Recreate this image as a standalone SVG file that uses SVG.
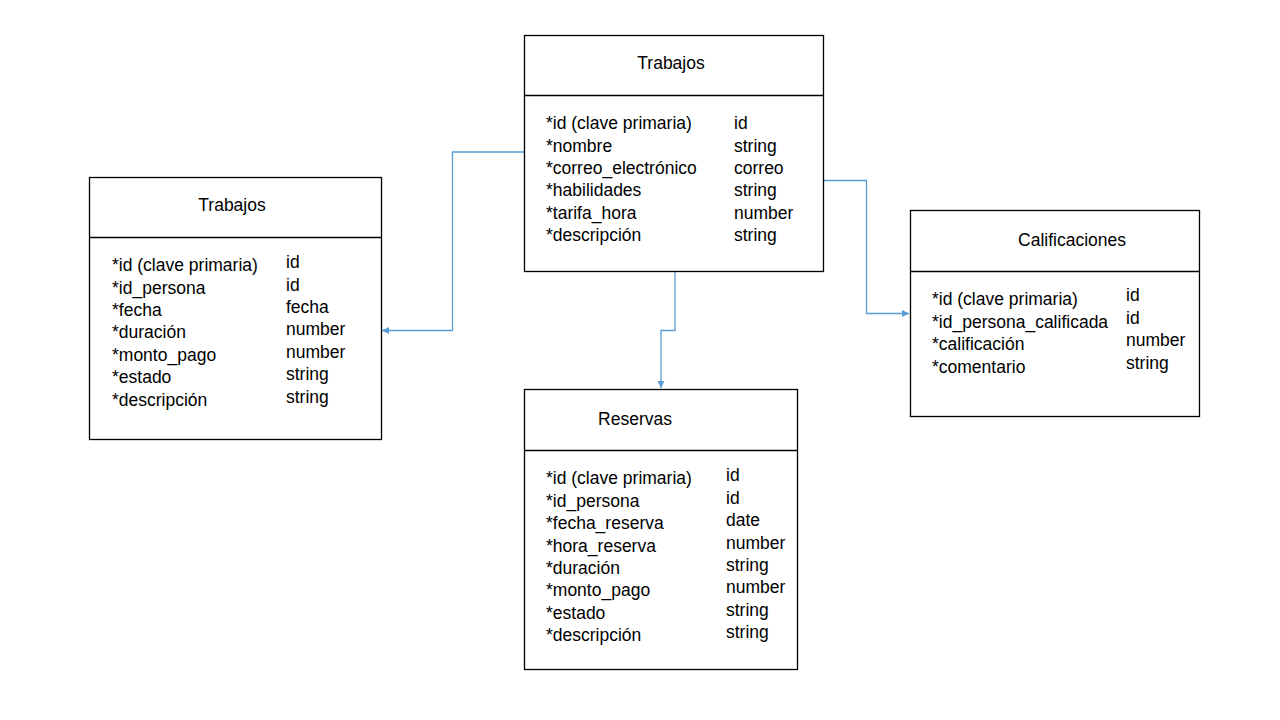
<svg xmlns="http://www.w3.org/2000/svg" width="1280" height="720" viewBox="0 0 1280 720">
  <defs>
    <style>
      .box { fill: #ffffff; stroke: #000000; stroke-width: 1.3; }
      .div { stroke: #000000; stroke-width: 1.3; }
      text { font-family: "Liberation Sans", Arial, sans-serif; font-size: 17.5px; fill: #000000; }
      .title { text-anchor: middle; }
      .link { fill: none; stroke: #5B9BD5; stroke-width: 1.3; marker-end: url(#arrow); }
    </style>
    <marker id="arrow" viewBox="0 0 10 10" refX="10" refY="5" markerWidth="7" markerHeight="7" markerUnits="userSpaceOnUse" orient="auto">
      <path d="M0,0 L10,5 L0,10 z" fill="#5B9BD5"/>
    </marker>
  </defs>
  <rect width="1280" height="720" fill="#ffffff"/>

  <!-- connectors -->
  <g id="connectors">
    <path class="link" d="M524,152 H452.5 V330.5 H382"/>
    <path class="link" d="M675,271 V330.5 H661 V388"/>
    <path class="link" d="M823,180.5 H866.5 V313.5 H909"/>
  </g>

  <!-- Trabajos (top) -->
  <g id="trabajos-top">
    <rect class="box" x="524.5" y="35.5" width="299" height="236"/>
    <line class="div" x1="524.5" y1="95.5" x2="823.5" y2="95.5"/>
    <text class="title" x="671" y="69">Trabajos</text>
    <text x="546" y="129">*id (clave primaria)</text>
    <text x="546" y="151.5">*nombre</text>
    <text x="546" y="174">*correo_electrónico</text>
    <text x="546" y="196">*habilidades</text>
    <text x="546" y="218.5">*tarifa_hora</text>
    <text x="546" y="241">*descripción</text>
    <text x="734" y="129">id</text>
    <text x="734" y="151.5">string</text>
    <text x="734" y="174">correo</text>
    <text x="734" y="196">string</text>
    <text x="734" y="218.5">number</text>
    <text x="734" y="241">string</text>
  </g>

  <!-- Trabajos (left) -->
  <g id="trabajos-left">
    <rect class="box" x="89.5" y="177.5" width="292" height="262"/>
    <line class="div" x1="89.5" y1="237.5" x2="381.5" y2="237.5"/>
    <text class="title" x="232" y="211">Trabajos</text>
    <text x="112" y="271">*id (clave primaria)</text>
    <text x="112" y="293.5">*id_persona</text>
    <text x="112" y="316">*fecha</text>
    <text x="112" y="338">*duración</text>
    <text x="112" y="360.5">*monto_pago</text>
    <text x="112" y="383">*estado</text>
    <text x="112" y="405.5">*descripción</text>
    <text x="286" y="268">id</text>
    <text x="286" y="290.5">id</text>
    <text x="286" y="313">fecha</text>
    <text x="286" y="335">number</text>
    <text x="286" y="357.5">number</text>
    <text x="286" y="380">string</text>
    <text x="286" y="402.5">string</text>
  </g>

  <!-- Calificaciones -->
  <g id="calificaciones">
    <rect class="box" x="910.5" y="210.5" width="289" height="206"/>
    <line class="div" x1="910.5" y1="271.5" x2="1199.5" y2="271.5"/>
    <text class="title" x="1072" y="246">Calificaciones</text>
    <text x="932" y="305">*id (clave primaria)</text>
    <text x="932" y="327.5">*id_persona_calificada</text>
    <text x="932" y="350">*calificación</text>
    <text x="932" y="372.5">*comentario</text>
    <text x="1126" y="301">id</text>
    <text x="1126" y="323.5">id</text>
    <text x="1126" y="346">number</text>
    <text x="1126" y="368.5">string</text>
  </g>

  <!-- Reservas -->
  <g id="reservas">
    <rect class="box" x="524.5" y="389.5" width="273" height="280"/>
    <line class="div" x1="524.5" y1="450.5" x2="797.5" y2="450.5"/>
    <text class="title" x="635" y="425">Reservas</text>
    <text x="546" y="484">*id (clave primaria)</text>
    <text x="546" y="506.5">*id_persona</text>
    <text x="546" y="529">*fecha_reserva</text>
    <text x="546" y="551.5">*hora_reserva</text>
    <text x="546" y="574">*duración</text>
    <text x="546" y="596">*monto_pago</text>
    <text x="546" y="618.5">*estado</text>
    <text x="546" y="641">*descripción</text>
    <text x="726" y="481">id</text>
    <text x="726" y="503.5">id</text>
    <text x="726" y="526">date</text>
    <text x="726" y="548.5">number</text>
    <text x="726" y="571">string</text>
    <text x="726" y="593">number</text>
    <text x="726" y="615.5">string</text>
    <text x="726" y="638">string</text>
  </g>
</svg>
